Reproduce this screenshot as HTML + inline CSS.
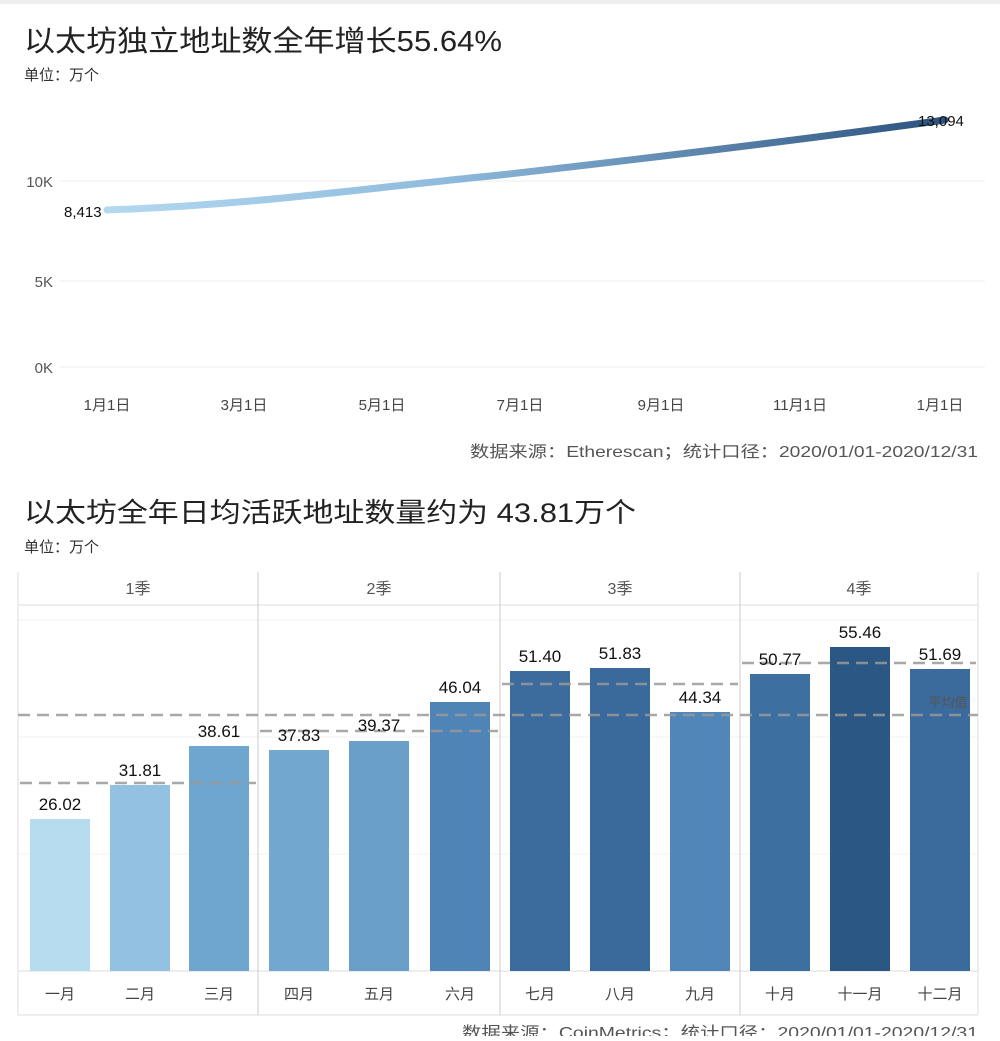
<!DOCTYPE html>
<html><head><meta charset="utf-8"><style>
body{margin:0;background:#fff;width:1000px;height:1036px;overflow:hidden;font-family:"Liberation Sans","Noto Sans CJK SC",sans-serif;}
</style></head><body>
<svg width="1000" height="1036" xmlns="http://www.w3.org/2000/svg" font-family="Liberation Sans, Noto Sans CJK SC, sans-serif">
<defs>
<linearGradient id="lg" x1="0" x2="1" y1="0" y2="0"><stop offset="0" stop-color="#b3d9f0"/><stop offset="0.4" stop-color="#8fbbdd"/><stop offset="1" stop-color="#2b527d"/></linearGradient>
</defs>
<rect x="0" y="0" width="1000" height="4" fill="#eee"/>
<text x="24" y="51" font-size="29" fill="#222" textLength="478" lengthAdjust="spacingAndGlyphs">以太坊独立地址数全年增长55.64%</text>
<text x="24" y="80" font-size="15" fill="#333">单位：万个</text>
<g stroke="#eee" stroke-width="1">
<line x1="60" x2="985" y1="181" y2="181"/><line x1="60" x2="985" y1="281" y2="281"/><line x1="60" x2="985" y1="367" y2="367"/>
</g>
<g font-size="15" fill="#555" text-anchor="end">
<text x="53" y="187">10K</text><text x="53" y="287">5K</text><text x="53" y="373">0K</text>
</g>
<path d="M107,210 C250,205 350,190 500,175 C650,158 800,140 945,120" fill="none" stroke="url(#lg)" stroke-width="7" stroke-linecap="round"/>
<text x="64" y="217" font-size="15" fill="#111">8,413</text>
<text x="918" y="126" font-size="15" fill="#111">13,094</text>
<g font-size="15" fill="#444" text-anchor="middle">
<text x="107" y="410">1月1日</text><text x="244" y="410">3月1日</text><text x="382" y="410">5月1日</text><text x="520" y="410">7月1日</text><text x="661" y="410">9月1日</text><text x="800" y="410">11月1日</text><text x="940" y="410">1月1日</text>
</g>
<text x="978" y="457" font-size="16" fill="#555" text-anchor="end" textLength="508" lengthAdjust="spacingAndGlyphs">数据来源：Etherescan；统计口径：2020/01/01-2020/12/31</text>

<text x="24" y="522" font-size="27" fill="#222" textLength="612" lengthAdjust="spacingAndGlyphs">以太坊全年日均活跃地址数量约为 43.81万个</text>
<text x="24" y="552" font-size="15" fill="#333">单位：万个</text>

<g stroke="#ddd" stroke-width="1" fill="none">
<line x1="18" x2="978" y1="605" y2="605"/>
<line x1="18" x2="978" y1="620" y2="620" stroke="#f2f2f2"/>
<line x1="18" x2="978" y1="737" y2="737" stroke="#f2f2f2"/>
<line x1="18" x2="978" y1="854" y2="854" stroke="#f2f2f2"/>
<line x1="18" x2="978" y1="971" y2="971"/>
<line x1="18" x2="978" y1="1015" y2="1015"/>
<line x1="18" x2="18" y1="572" y2="1015"/>
<line x1="258" x2="258" y1="572" y2="1015" stroke="#ccc"/>
<line x1="500" x2="500" y1="572" y2="1015" stroke="#ccc"/>
<line x1="740" x2="740" y1="572" y2="1015" stroke="#ccc"/>
<line x1="978" x2="978" y1="572" y2="1015"/>
</g>
<g font-size="16" fill="#555" text-anchor="middle">
<text x="138" y="594">1季</text><text x="379" y="594">2季</text><text x="620" y="594">3季</text><text x="859" y="594">4季</text>
</g>
<g>
<rect x="30" y="819" width="60" height="152" fill="#b7dcf0"/>
<rect x="110" y="785" width="60" height="186" fill="#92c1e1"/>
<rect x="189" y="746" width="60" height="225" fill="#6ea6cf"/>
<rect x="269" y="750" width="60" height="221" fill="#72a8d0"/>
<rect x="349" y="741" width="60" height="230" fill="#6a9fca"/>
<rect x="430" y="702" width="60" height="269" fill="#4f84b7"/>
<rect x="510" y="671" width="60" height="300" fill="#3c6c9e"/>
<rect x="590" y="668" width="60" height="303" fill="#3a699b"/>
<rect x="670" y="712" width="60" height="259" fill="#5086b8"/>
<rect x="750" y="674" width="60" height="297" fill="#3e6fa1"/>
<rect x="830" y="647" width="60" height="324" fill="#2b5784"/>
<rect x="910" y="669" width="60" height="302" fill="#3b6a9c"/>
</g>
<g stroke="#999" stroke-width="2.5" stroke-dasharray="12,7" opacity="0.85">
<line x1="18" x2="978" y1="715" y2="715"/>
<line x1="20" x2="256" y1="783" y2="783"/>
<line x1="260" x2="498" y1="731" y2="731"/>
<line x1="502" x2="738" y1="684" y2="684"/>
<line x1="742" x2="976" y1="663" y2="663"/>
</g>
<text x="948" y="707" font-size="13" fill="#555" text-anchor="middle">平均值</text>
<g font-size="17" fill="#111" text-anchor="middle">
<text x="60" y="810">26.02</text><text x="140" y="776">31.81</text><text x="219" y="737">38.61</text>
<text x="299" y="741">37.83</text><text x="379" y="731">39.37</text><text x="460" y="693">46.04</text>
<text x="540" y="662">51.40</text><text x="620" y="659">51.83</text><text x="700" y="703">44.34</text>
<text x="780" y="665">50.77</text><text x="860" y="638">55.46</text><text x="940" y="660">51.69</text>
</g>
<g font-size="15" fill="#444" text-anchor="middle">
<text x="60" y="999">一月</text><text x="140" y="999">二月</text><text x="219" y="999">三月</text>
<text x="299" y="999">四月</text><text x="379" y="999">五月</text><text x="460" y="999">六月</text>
<text x="540" y="999">七月</text><text x="620" y="999">八月</text><text x="700" y="999">九月</text>
<text x="780" y="999">十月</text><text x="860" y="999">十一月</text><text x="940" y="999">十二月</text>
</g>
<text x="978" y="1038" font-size="16" fill="#555" text-anchor="end" textLength="516" lengthAdjust="spacingAndGlyphs">数据来源：CoinMetrics；统计口径：2020/01/01-2020/12/31</text>
</svg>
</body></html>
